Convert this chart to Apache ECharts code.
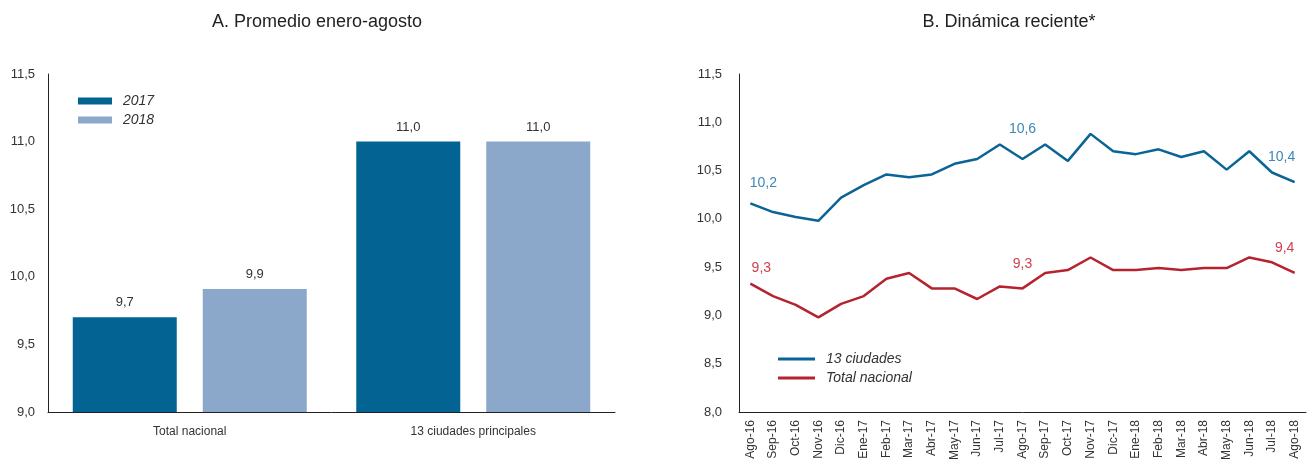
<!DOCTYPE html>
<html>
<head>
<meta charset="utf-8">
<script src="https://cdn.jsdelivr.net/npm/echarts@6/dist/echarts.min.js"></script>
<style>
  html, body { margin: 0; padding: 0; background: #fff; }
  #container { width: 1309px; height: 463px; }
</style>
</head>
<body>
<div id="container"></div>
<script>
// datos panel A
var barCategories = ['Total nacional', '13 ciudades principales'];
var bar2017 = [9.7, 11.0];
var bar2018 = [9.91, 11.0];

// datos panel B
var months = ['Ago-16', 'Sep-16', 'Oct-16', 'Nov-16', 'Dic-16', 'Ene-17', 'Feb-17', 'Mar-17', 'Abr-17',
  'May-17', 'Jun-17', 'Jul-17', 'Ago-17', 'Sep-17', 'Oct-17', 'Nov-17', 'Dic-17', 'Ene-18', 'Feb-18',
  'Mar-18', 'Abr-18', 'May-18', 'Jun-18', 'Jul-18', 'Ago-18'];
var ciudades13 = [10.16, 10.07, 10.02, 9.98, 10.22, 10.35, 10.46, 10.43, 10.46, 10.57, 10.62, 10.77,
  10.62, 10.77, 10.6, 10.88, 10.7, 10.67, 10.72, 10.64, 10.7, 10.51, 10.7, 10.48, 10.38];
var totalNacional = [9.33, 9.2, 9.11, 8.98, 9.12, 9.2, 9.38, 9.44, 9.28, 9.28, 9.17, 9.3,
  9.28, 9.44, 9.47, 9.6, 9.47, 9.47, 9.49, 9.47, 9.49, 9.49, 9.6, 9.55, 9.44];
var labelIdx = [0, 12, 24];

var txt = '#333';
var fam = '"Liberation Sans", Arial, sans-serif';
function coma(v) { return v.toFixed(1).replace('.', ','); }

// etiquetas de la linea (solo 3 puntos)
function lineData(values, color, offsets) {
  return values.map(function (v, i) {
    var k = labelIdx.indexOf(i);
    if (k < 0) return v;
    return {
      value: v,
      label: { show: true, position: 'top', distance: 0, offset: offsets[k], color: color,
        fontSize: 14, fontFamily: fam, formatter: function (p) { return coma(p.value); } }
    };
  });
}

var myChart = echarts.init(document.getElementById('container'));
var option = {
  animation: false,
  textStyle: { fontFamily: fam },
  title: [
    { text: 'A. Promedio enero-agosto', left: 312, top: 8, textAlign: 'center',
      textStyle: { fontSize: 18, fontWeight: 'normal', color: '#222', fontFamily: fam } },
    { text: 'B. Dinámica reciente*', left: 1004, top: 8, textAlign: 'center',
      textStyle: { fontSize: 18, fontWeight: 'normal', color: '#222', fontFamily: fam } }
  ],
  legend: [
    { orient: 'vertical', left: 73, top: 89, itemWidth: 34, itemHeight: 7, itemGap: 5,
      icon: 'rect', data: ['2017', '2018'],
      textStyle: { fontSize: 14, fontStyle: 'italic', color: txt, padding: [0, 0, 0, 6] } },
    { orient: 'vertical', left: 773, top: 347, itemWidth: 37, itemHeight: 3, itemGap: 5,
      icon: 'rect', data: ['13 ciudades', 'Total nacional'],
      textStyle: { fontSize: 14, fontStyle: 'italic', color: txt, padding: [0, 0, 0, 6] } }
  ],
  grid: [
    { left: 48, right: 694, top: 74, bottom: 51 },
    { left: 739, right: 3, top: 74, bottom: 51 }
  ],
  xAxis: [
    { type: 'category', gridIndex: 0, data: barCategories,
      axisLine: { lineStyle: { color: '#222' } }, axisTick: { show: false },
      axisLabel: { color: txt, fontSize: 12, margin: 14 } },
    { type: 'category', gridIndex: 1, data: months, boundaryGap: true,
      axisLine: { lineStyle: { color: '#222' } }, axisTick: { show: false },
      axisLabel: { color: txt, fontSize: 12, rotate: 90, interval: 0, margin: 8 } }
  ],
  yAxis: [
    { type: 'value', gridIndex: 0, min: 9, max: 11.5, interval: 0.5,
      axisLine: { show: true, lineStyle: { color: '#222' } }, axisTick: { show: false },
      splitLine: { show: false },
      axisLabel: { color: txt, fontSize: 13, margin: 13, formatter: coma } },
    { type: 'value', gridIndex: 1, min: 8, max: 11.5, interval: 0.5,
      axisLine: { show: true, lineStyle: { color: '#222' } }, axisTick: { show: false },
      splitLine: { show: false },
      axisLabel: { color: txt, fontSize: 13, margin: 17, formatter: coma } }
  ],
  series: [
    { name: '2017', type: 'bar', xAxisIndex: 0, yAxisIndex: 0, data: bar2017,
      barWidth: 104, barGap: '25%', itemStyle: { color: '#036494' },
      label: { show: true, position: 'top', distance: 8, color: txt, fontSize: 13,
        formatter: function (p) { return coma(p.value); } } },
    { name: '2018', type: 'bar', xAxisIndex: 0, yAxisIndex: 0, data: bar2018,
      barWidth: 104, barGap: '25%', itemStyle: { color: '#8BA8CA' },
      label: { show: true, position: 'top', distance: 8, color: txt, fontSize: 13,
        formatter: function (p) { return coma(p.value); } } },
    { name: '13 ciudades', type: 'line', xAxisIndex: 1, yAxisIndex: 1,
      data: lineData(ciudades13, '#3d86b6', [[13, -13], [0, -23], [-13, -18]]),
      symbol: 'circle', symbolSize: 0, showSymbol: true,
      lineStyle: { color: '#0a6496', width: 2.5 }, itemStyle: { color: '#0a6496' } },
    { name: 'Total nacional', type: 'line', xAxisIndex: 1, yAxisIndex: 1,
      data: lineData(totalNacional, '#cf414d', [[11, -8], [0, -17], [-10, -18]]),
      symbol: 'circle', symbolSize: 0, showSymbol: true,
      lineStyle: { color: '#b5232f', width: 2.5 }, itemStyle: { color: '#b5232f' } }
  ]
};
myChart.setOption(option);
</script>
</body>
</html>
